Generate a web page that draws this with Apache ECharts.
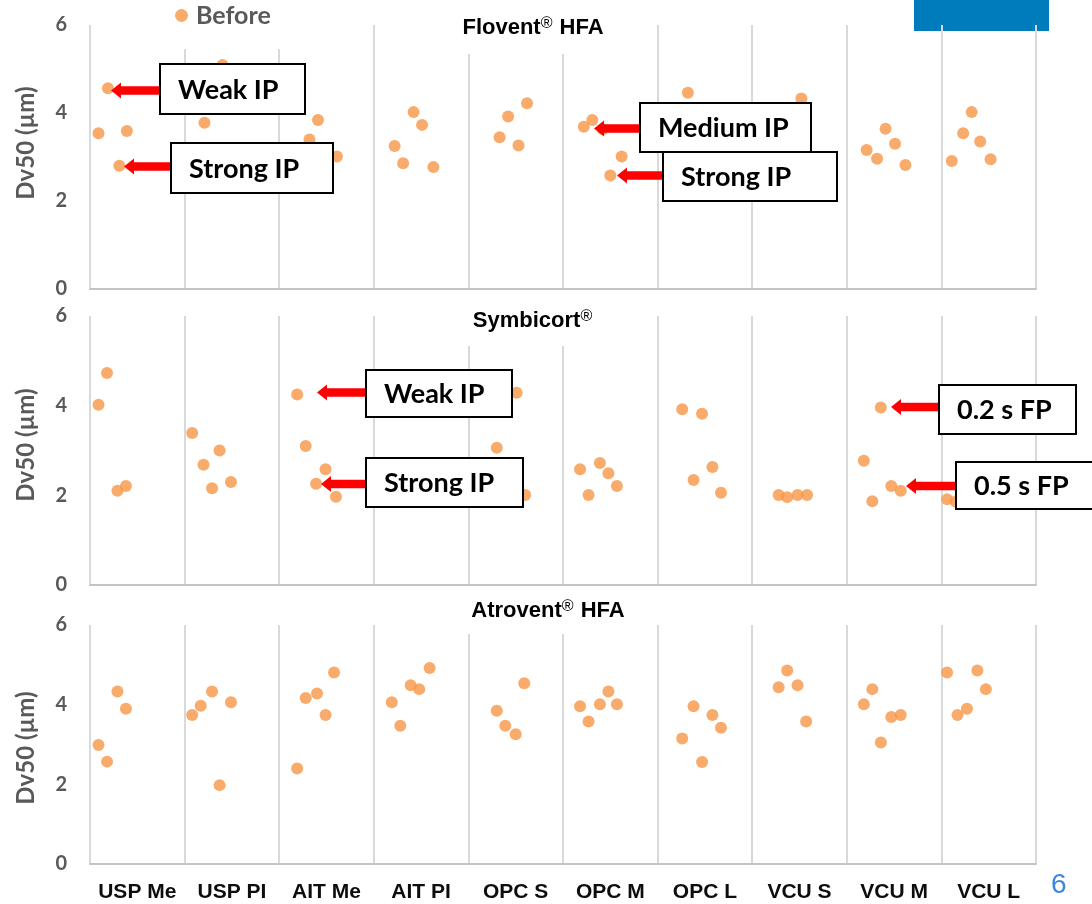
<!DOCTYPE html>
<html>
<head>
<meta charset="utf-8">
<script src="https://cdn.jsdelivr.net/npm/echarts@6/dist/echarts.min.js"></script>
<style>html,body{margin:0;padding:0;background:#fff}#c{width:1092px;height:904px}</style>
</head>
<body>
<div id="c"></div>
<script>
// ---- data ----
const categories = ['USP Me','USP PI','AIT Me','AIT PI','OPC S','OPC M','OPC L','VCU S','VCU M','VCU L'];
const yTicks = [0, 2, 4, 6];
const panelTitles = ['Flovent', 'Symbicort', 'Atrovent'];
const panelSuffix = [' HFA', '', ' HFA'];
const seriesName = 'Before';
// [position along category axis (category index + jitter), Dv50 in µm]
const floventBefore = [
  [0.09,3.54],[0.19,4.56],[0.39,3.59],[0.31,2.80],
  [1.40,5.09],[1.21,3.78],
  [2.32,3.40],[2.41,3.84],[2.61,3.01],
  [3.22,3.25],[3.42,4.02],[3.51,3.73],[3.31,2.86],[3.63,2.77],
  [4.33,3.45],[4.42,3.92],[4.62,4.22],[4.53,3.26],
  [5.22,3.69],[5.31,3.84],[5.42,3.63],[5.62,3.01],[5.50,2.58],
  [6.32,4.46],
  [7.52,4.33],
  [8.21,3.16],[8.41,3.64],[8.51,3.30],[8.32,2.96],[8.62,2.82],
  [9.11,2.91],[9.23,3.54],[9.32,4.02],[9.41,3.35],[9.52,2.95]
];
const symbicortBefore = [
  [0.09,4.02],[0.18,4.73],[0.29,2.10],[0.38,2.21],
  [1.08,3.39],[1.20,2.68],[1.29,2.16],[1.37,3.00],[1.49,2.30],
  [2.19,4.25],[2.28,3.10],[2.49,2.58],[2.39,2.26],[2.60,1.97],
  [4.51,4.29],[4.30,3.06],[4.60,2.01],
  [5.18,2.58],[5.39,2.72],[5.48,2.49],[5.57,2.21],[5.27,2.01],
  [6.26,3.92],[6.47,3.82],[6.58,2.63],[6.38,2.34],[6.67,2.06],
  [7.28,2.01],[7.37,1.96],[7.48,2.01],[7.58,2.01],
  [8.18,2.77],[8.27,1.87],[8.36,3.96],[8.47,2.21],[8.57,2.10],
  [9.06,1.91],[9.15,1.86]
];
const atroventBefore = [
  [0.09,2.99],[0.18,2.57],[0.29,4.33],[0.38,3.90],
  [1.08,3.74],[1.17,3.97],[1.29,4.33],[1.37,1.98],[1.49,4.06],
  [2.19,2.40],[2.28,4.17],[2.40,4.28],[2.49,3.74],[2.58,4.81],
  [3.19,4.06],[3.28,3.47],[3.39,4.49],[3.48,4.39],[3.59,4.92],
  [4.30,3.85],[4.39,3.47],[4.50,3.26],[4.59,4.54],
  [5.18,3.96],[5.27,3.58],[5.39,4.01],[5.48,4.33],[5.57,4.01],
  [6.26,3.15],[6.38,3.96],[6.47,2.56],[6.58,3.74],[6.67,3.42],
  [7.28,4.44],[7.37,4.86],[7.48,4.49],[7.57,3.58],
  [8.18,4.01],[8.27,4.39],[8.36,3.05],[8.47,3.69],[8.57,3.74],
  [9.06,4.81],[9.17,3.74],[9.27,3.90],[9.38,4.86],[9.47,4.39]
];
const annotationLabels = ['Weak IP','Strong IP','Medium IP','Strong IP','Weak IP','Strong IP','0.2 s FP','0.5 s FP'];

// ---- layout ----
const panels = [floventBefore, symbicortBefore, atroventBefore];
const gridBoxes = [
  {top: 25, height: 264},
  {top: 316, height: 269},
  {top: 625, height: 239}
];
const titlePos = [[533, 28], [533, 321], [548, 611]];
const yNamePos = [143, 445, 748];
const annotBoxes = [ // x, y, w, h, tipX, tipY
  [160, 64, 145, 50, 111, 90.5],
  [171, 143, 162, 50, 124, 166.5],
  [640, 103, 171, 49, 594, 128.5],
  [663, 152, 174, 49, 617, 175.5],
  [366, 370, 146, 47, 317, 392.5],
  [366, 458, 157, 49, 321, 484],
  [939, 385, 137, 49, 891, 407],
  [956, 462, 140, 47, 906, 486]
];

const ORANGE = '#F79646';
const chart = echarts.init(document.getElementById('c'), null, {renderer: 'canvas'});

const grid = gridBoxes.map(g => ({left: 90, right: 56, top: g.top, height: g.height, containLabel: false}));
const xAxis = panels.map((_, i) => ({
  type: 'value', gridIndex: i, min: 0, max: categories.length, interval: 1,
  axisLabel: {show: false}, axisTick: {show: false},
  axisLine: {show: true, lineStyle: {color: '#C4C4C4', width: 2}},
  splitLine: {show: true, lineStyle: {color: '#D9D9D9', width: 2}}
}));
xAxis.push({
  type: 'category', gridIndex: 2, data: categories, position: 'bottom', boundaryGap: true,
  axisLine: {show: false}, axisTick: {show: false}, splitLine: {show: false},
  axisLabel: {show: true, interval: 0, margin: 18, color: '#0D0D0D',
    fontFamily: 'Liberation Sans', fontWeight: 'bold', fontSize: 21}
});
const yAxis = panels.map((_, i) => ({
  type: 'value', gridIndex: i, min: yTicks[0], max: yTicks[yTicks.length - 1], interval: yTicks[1] - yTicks[0],
  axisLine: {show: false}, axisTick: {show: false}, splitLine: {show: false},
  axisLabel: {margin: 23, color: '#595959', fontFamily: 'Lato', fontWeight: 'bold', fontSize: 20}
}));
const series = panels.map((d, i) => ({
  type: 'scatter', name: seriesName, xAxisIndex: i, yAxisIndex: i,
  data: d, symbol: 'circle', symbolSize: 12, itemStyle: {color: ORANGE}, z: 3
}));
const title = panelTitles.map((t, i) => ({
  text: t + '{r|®}' + panelSuffix[i],
  left: titlePos[i][0], top: titlePos[i][1], textAlign: 'center', textVerticalAlign: 'middle', padding: 0,
  textStyle: {fontFamily: 'Liberation Sans', fontWeight: 'bold', fontSize: 22, color: '#000',
    rich: {r: {fontFamily: 'Liberation Sans', fontWeight: 'normal', fontSize: 16, color: '#000', verticalAlign: 'top', padding: [0, 1, 8, 0]}}}
}));

const graphic = [];
// background bits from the slide
graphic.push({type: 'rect', z: -1, shape: {x: 914, y: 0, width: 135, height: 31}, style: {fill: '#007CBD'}});
graphic.push({type: 'text', z: 1, style: {x: 1051, y: 885, text: '6', fill: '#3F88D8', font: '28px "Liberation Sans"', verticalAlign: 'middle'}});
// white covers behind title / legend
graphic.push({type: 'rect', z: 1, shape: {x: 100, y: 0, width: 200, height: 49}, style: {fill: '#fff'}});
graphic.push({type: 'rect', z: 1, shape: {x: 385, y: 0, width: 260, height: 54}, style: {fill: '#fff'}});
graphic.push({type: 'rect', z: 1, shape: {x: 385, y: 296, width: 260, height: 50}, style: {fill: '#fff'}});
graphic.push({type: 'rect', z: 1, shape: {x: 385, y: 598, width: 260, height: 36}, style: {fill: '#fff'}});
// y-axis names
yNamePos.forEach(cy => graphic.push({
  type: 'text', z: 5, x: 26.5, y: cy, rotation: Math.PI / 2,
  style: {text: 'Dv50 (µm)', fill: '#595959', font: 'bold 24px Lato', align: 'center', verticalAlign: 'middle'}
}));
// annotations
annotBoxes.forEach((b, i) => {
  const [x, y, w, h, tx, ty] = b;
  graphic.push({type: 'polygon', z: 20, shape: {points: [
    [tx, ty], [tx + 10, ty - 8], [tx + 10, ty - 4.2], [x, ty - 4.2], [x, ty + 4.2], [tx + 10, ty + 4.2], [tx + 10, ty + 8]
  ]}, style: {fill: '#FF0000'}});
  graphic.push({type: 'rect', z: 21, shape: {x: x, y: y, width: w, height: h}, style: {fill: '#fff', stroke: '#000', lineWidth: 2}});
  graphic.push({type: 'text', z: 22, style: {x: x + 18, y: y + h / 2 + 1, text: annotationLabels[i], fill: '#000', font: 'bold 27px Lato', verticalAlign: 'middle'}});
});

chart.setOption({
  animation: false,
  backgroundColor: '#fff',
  title: title,
  legend: {
    data: [seriesName], left: 175, top: 3, padding: 0, icon: 'circle', itemWidth: 13, itemHeight: 13,
    textStyle: {fontFamily: 'Lato', fontWeight: 'bold', fontSize: 25, color: '#595959', padding: [0, 0, 0, 3]}
  },
  grid: grid,
  xAxis: xAxis,
  yAxis: yAxis,
  series: series,
  graphic: graphic
});
</script>
</body>
</html>
